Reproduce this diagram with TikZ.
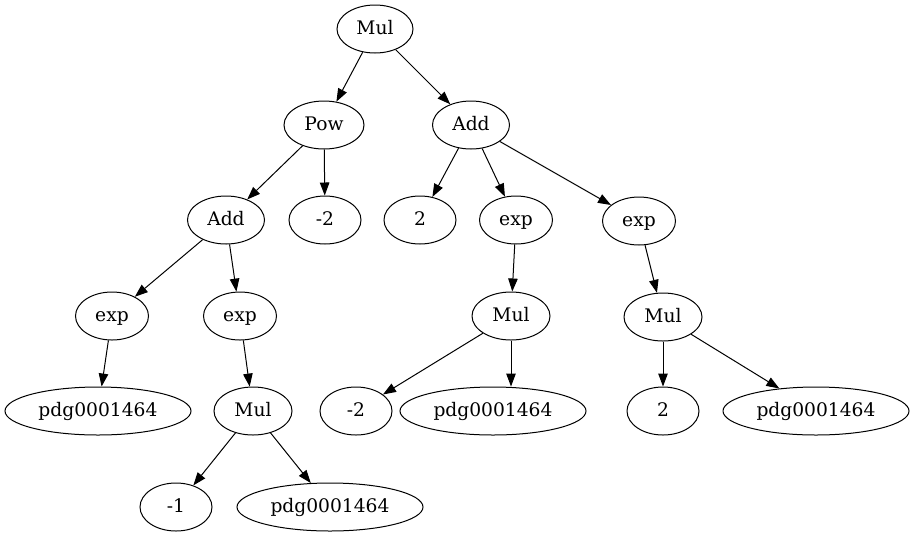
\documentclass[tikz,border=0pt]{standalone}
\usepackage{fontspec}
\setmainfont{DejaVu Serif}
\usetikzlibrary{shapes.geometric,arrows.meta}
\begin{document}
\begin{tikzpicture}[x=1pt,y=-1pt,
  nd/.style={ellipse,draw,line width=1pt,inner sep=0pt,minimum height=48pt,text height=14pt,text depth=4pt,font=\fontsize{18.67}{22}\selectfont},
  edge/.style={line width=1pt,-{Triangle[length=13pt,width=9.5pt]}}]
\useasboundingbox (0,0) rectangle (915,539);
\node[nd,minimum width=76pt] (m1) at (375,29) {Mul};
\node[nd,minimum width=80pt] (pow) at (324,125) {Pow};
\node[nd,minimum width=77pt] (add1) at (471,125) {Add};
\node[nd,minimum width=77pt] (add2) at (226,220) {Add};
\node[nd,minimum width=72pt] (n2a) at (325,220) {-2};
\node[nd,minimum width=72pt] (two1) at (420,220) {2};
\node[nd,minimum width=73pt] (exp1) at (516,220) {exp};
\node[nd,minimum width=73pt] (exp2) at (639,221) {exp};
\node[nd,minimum width=73pt] (exp3) at (112,316) {exp};
\node[nd,minimum width=73pt] (exp4) at (240,316) {exp};
\node[nd,minimum width=78pt] (mul2) at (511,316) {Mul};
\node[nd,minimum width=78pt] (mul3) at (663,317) {Mul};
\node[nd,minimum width=186pt] (pdg1) at (98,411) {pdg0001464};
\node[nd,minimum width=78pt] (mul4) at (253,411) {Mul};
\node[nd,minimum width=72pt] (n2b) at (356,411) {-2};
\node[nd,minimum width=186pt] (pdg2) at (493,411) {pdg0001464};
\node[nd,minimum width=72pt] (two2) at (663,411) {2};
\node[nd,minimum width=186pt] (pdg3) at (816,411) {pdg0001464};
\node[nd,minimum width=72pt] (m1n) at (176,507) {-1};
\node[nd,minimum width=186pt] (pdg4) at (330,507) {pdg0001464};
\draw[edge] (m1) -- (pow);
\draw[edge] (m1) -- (add1);
\draw[edge] (pow) -- (add2);
\draw[edge] (pow) -- (n2a);
\draw[edge] (add1) -- (two1);
\draw[edge] (add1) -- (exp1);
\draw[edge] (add1) -- (exp2);
\draw[edge] (add2) -- (exp3);
\draw[edge] (add2) -- (exp4);
\draw[edge] (exp3) -- (pdg1);
\draw[edge] (exp4) -- (mul4);
\draw[edge] (mul4) -- (m1n);
\draw[edge] (mul4) -- (pdg4);
\draw[edge] (exp1) -- (mul2);
\draw[edge] (mul2) -- (n2b);
\draw[edge] (mul2.south) -- (mul2.south |- pdg2.north);
\draw[edge] (exp2) -- (mul3);
\draw[edge] (mul3) -- (two2);
\draw[edge] (mul3) -- (pdg3);
\end{tikzpicture}
\end{document}
